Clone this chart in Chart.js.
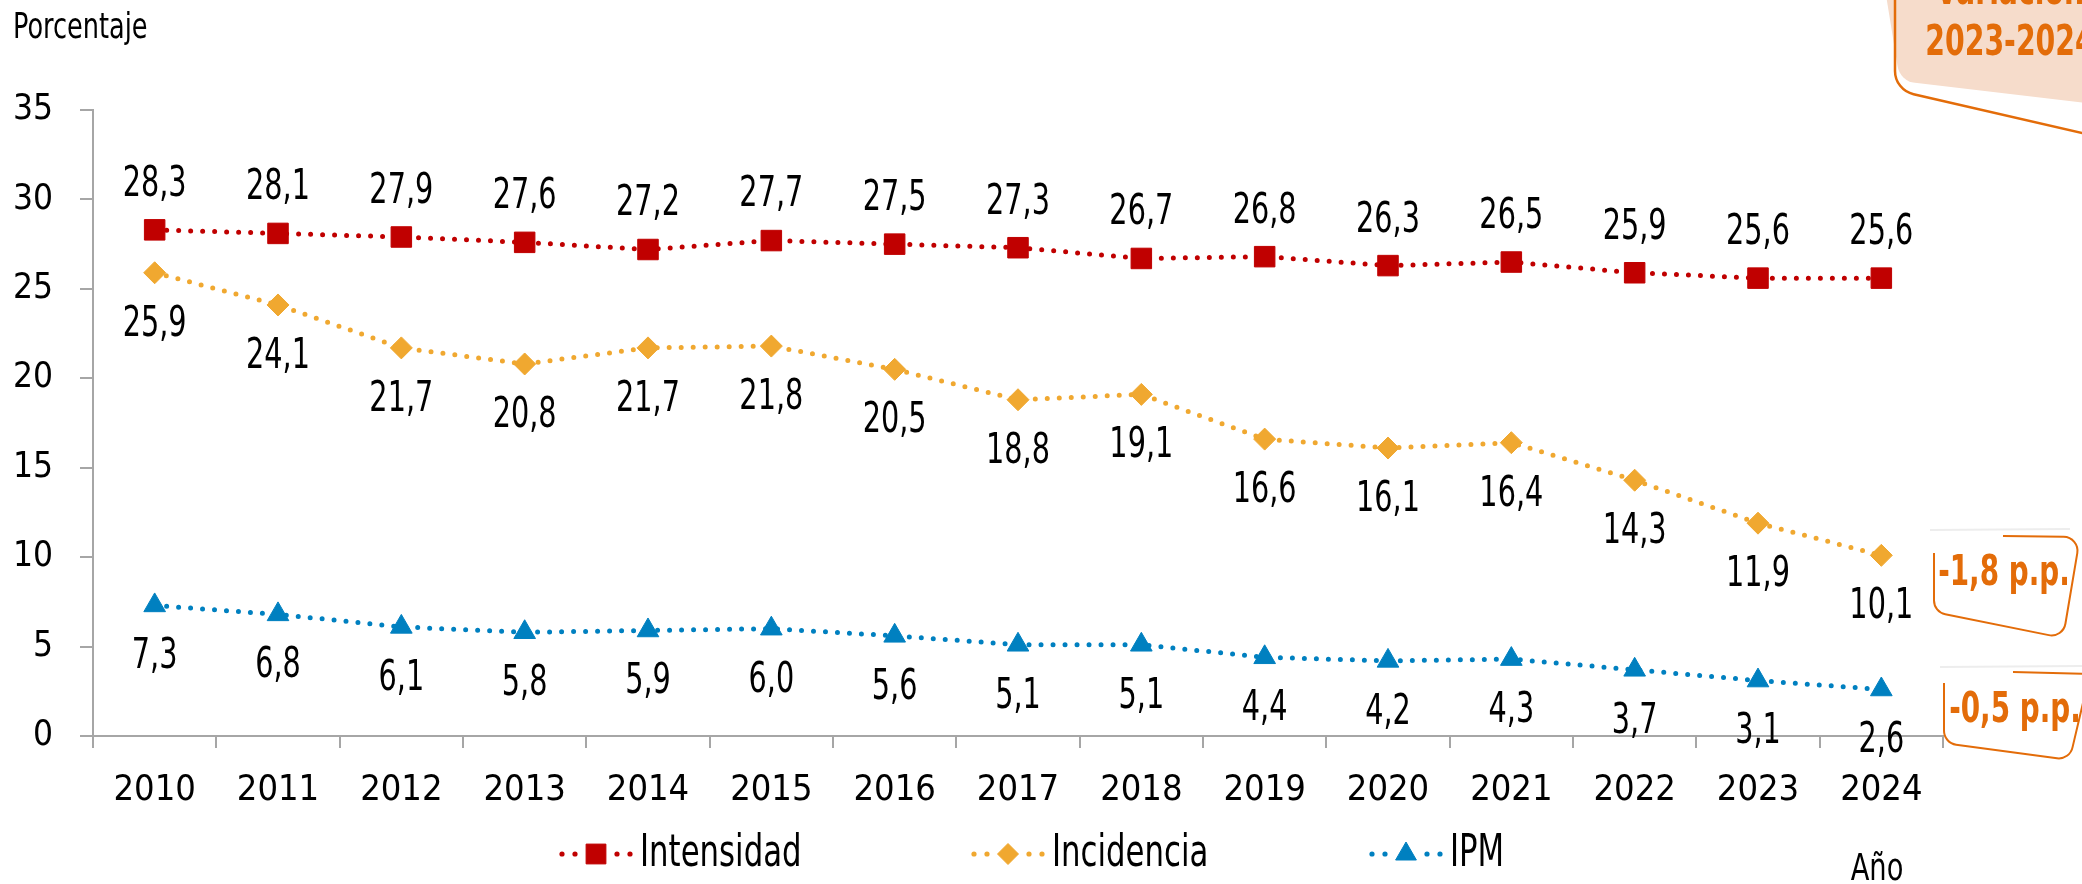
<!DOCTYPE html>
<html><head><meta charset="utf-8">
<script src="https://cdn.jsdelivr.net/npm/chart.js@4.4.0/dist/chart.umd.min.js"></script>
<style>html,body{margin:0;padding:0;background:#fff;overflow:hidden}#wrap{position:relative;width:2082px;height:884px}</style>
</head><body><div id="wrap"><canvas id="c"></canvas></div>
<script>
// ---- data ----
const years = ['2010','2011','2012','2013','2014','2015','2016','2017','2018','2019','2020','2021','2022','2023','2024'];
const intensidad = [28.3,28.1,27.9,27.6,27.2,27.7,27.5,27.3,26.7,26.8,26.3,26.5,25.9,25.6,25.6];
const incidencia = [25.9,24.1,21.7,20.8,21.7,21.8,20.5,18.8,19.1,16.6,16.1,16.4,14.3,11.9,10.1];
const ipm = [7.3,6.8,6.1,5.8,5.9,6.0,5.6,5.1,5.1,4.4,4.2,4.3,3.7,3.1,2.6];
const yTicks = [0,5,10,15,20,25,30,35];
const seriesNames = ['Intensidad','Incidencia','IPM'];
const yTitle = 'Porcentaje';
const xTitle = 'Año';
const boxTitle = ['Variación','2023-2024'];

// ---- styles ----
const FONT = "'Liberation Sans Narrow','DejaVu Sans Condensed','Roboto Condensed',sans-serif";
const RED = '#C00000', ORANGE = '#F0A830', BLUE = '#0080C0', ACCENT = '#E36C09', AXIS = '#A6A6A6';
const fmt = v => v.toFixed(1).replace('.', ',');

Chart.defaults.font.family = FONT;
Chart.defaults.color = '#000';

function ds(label, data, color, style, radius, labelOffset) {
  return {
    label, data, borderColor: color, backgroundColor: color,
    pointBackgroundColor: color, pointBorderColor: color, pointBorderWidth: 1,
    pointStyle: style, pointRadius: radius, pointHoverRadius: radius,
    borderWidth: 5, borderDash: [0, 12], borderCapStyle: 'round', tension: 0,
    fill: false, clip: false, labelOffset
  };
}

const datasets = [
  ds(seriesNames[0], intensidad, RED, 'rect', 14.5, -45),
  ds(seriesNames[1], incidencia, ORANGE, 'rectRot', 11, 52),
  ds(seriesNames[2], ipm, BLUE, 'triangle', 12.5, 52)
];

const legendX = [596, 1008, 1406];

function txt(ctx, s, x, y, font, align, baseline, sx, color) {
  ctx.save();
  ctx.font = font;
  ctx.fillStyle = color;
  ctx.textAlign = align;
  ctx.textBaseline = baseline;
  ctx.translate(x, y);
  ctx.scale(sx, 1);
  ctx.fillText(s, 0, 0);
  ctx.restore();
}

const decorPlugin = {
  id: 'decor',
  afterDatasetsDraw(chart) {
    const ctx = chart.ctx;
    chart.data.datasets.forEach((d, i) => {
      const meta = chart.getDatasetMeta(i);
      meta.data.forEach((el, j) => {
        txt(ctx, fmt(d.data[j]), el.x, el.y + d.labelOffset, `42px ${FONT}`, 'center', 'middle', 0.76, '#000');
      });
    });
  },
  afterDraw(chart) {
    const ctx = chart.ctx;
    ctx.save();
    // axis titles
    txt(ctx, yTitle, 13, 38, `36px ${FONT}`, 'left', 'alphabetic', 0.79, '#000');
    txt(ctx, xTitle, 1877, 880, `37px ${FONT}`, 'center', 'alphabetic', 0.82, '#000');

    // legend
    const ly = 854;
    chart.data.datasets.forEach((d, i) => {
      const cx = legendX[i];
      ctx.fillStyle = d.borderColor;
      [-34, -21, 21, 34].forEach(dx => {
        ctx.beginPath(); ctx.arc(cx + dx, ly, 2.6, 0, Math.PI * 2); ctx.fill();
      });
      ctx.strokeStyle = d.borderColor;
      ctx.lineWidth = 1;
      Chart.helpers.drawPoint(ctx, { pointStyle: d.pointStyle, radius: d.pointRadius - 0.5, rotation: 0, borderWidth: 1 }, cx, ly);
      txt(ctx, d.label, cx + 44, ly, `45px ${FONT}`, 'left', 'middle', 0.76, '#000');
    });

    // top-right "Variación" box
    ctx.fillStyle = '#F6DCCB';
    ctx.beginPath();
    ctx.moveTo(1886, -5);
    ctx.arcTo(1900, 81, 2082, 103, 20);
    ctx.lineTo(2095, 104);
    ctx.lineTo(2095, -5);
    ctx.closePath();
    ctx.fill();
    ctx.strokeStyle = ACCENT;
    ctx.lineWidth = 2.5;
    ctx.beginPath();
    ctx.moveTo(1895, -5);
    ctx.arcTo(1895, 90, 2082, 133, 24);
    ctx.lineTo(2095, 136);
    ctx.stroke();
    txt(ctx, boxTitle[0], 2010, 4, `bold 42px ${FONT}`, 'center', 'alphabetic', 0.75, ACCENT);
    txt(ctx, boxTitle[1], 2010, 55, `bold 42px ${FONT}`, 'center', 'alphabetic', 0.75, ACCENT);

    // variation boxes
    const n = years.length;
    const dInc = fmt(incidencia[n - 1] - incidencia[n - 2]) + ' p.p.';
    const dIpm = fmt(ipm[n - 1] - ipm[n - 2]) + ' p.p.';
    ctx.strokeStyle = '#EDEDED';
    ctx.lineWidth = 2;
    ctx.beginPath(); ctx.moveTo(1930, 530); ctx.lineTo(2070, 529); ctx.stroke();
    ctx.beginPath(); ctx.moveTo(1940, 667); ctx.lineTo(2082, 666); ctx.stroke();

    ctx.strokeStyle = ACCENT;
    ctx.lineWidth = 2;
    ctx.beginPath();
    ctx.moveTo(2003, 536);
    ctx.arcTo(2080, 537, 2063, 638, 14);
    ctx.arcTo(2063, 638, 1934, 612, 14);
    ctx.arcTo(1934, 612, 1934, 553, 14);
    ctx.lineTo(1934, 553);
    ctx.stroke();

    ctx.beginPath();
    ctx.moveTo(2013, 672);
    ctx.lineTo(2095, 674);
    ctx.stroke();
    ctx.beginPath();
    ctx.moveTo(1944, 683);
    ctx.arcTo(1944, 743, 2070, 760, 14);
    ctx.arcTo(2070, 760, 2086, 680, 14);
    ctx.lineTo(2086, 690);
    ctx.stroke();

    txt(ctx, dInc, 2004, 574, `bold 43px ${FONT}`, 'center', 'middle', 0.72, ACCENT);
    txt(ctx, dIpm, 2015, 711, `bold 43px ${FONT}`, 'center', 'middle', 0.72, ACCENT);
    ctx.restore();
  }
};

new Chart(document.getElementById('c'), {
  type: 'line',
  data: { labels: years, datasets },
  options: {
    responsive: true,
    maintainAspectRatio: false,
    devicePixelRatio: 1,
    animation: false,
    events: [],
    layout: { padding: { top: 110, right: 139, left: 0, bottom: 0 } },
    plugins: { legend: { display: false }, tooltip: { enabled: false } },
    scales: {
      x: {
        type: 'category',
        offset: true,
        grid: { offset: true, drawOnChartArea: false, drawTicks: true, tickLength: 12, color: AXIS, lineWidth: 2 },
        border: { color: AXIS, width: 2 },
        ticks: { padding: 21, font: { size: 36 }, color: '#000', autoSkip: false, maxRotation: 0 },
        afterFit: s => { s.height = 148; }
      },
      y: {
        min: 0, max: 35,
        afterBuildTicks: s => { s.ticks = yTicks.map(v => ({ value: v })); },
        grid: { drawOnChartArea: false, drawTicks: true, tickLength: 13, color: AXIS, lineWidth: 2 },
        border: { color: AXIS, width: 2 },
        ticks: { padding: 27, font: { size: 35 }, color: '#000' },
        afterFit: s => { s.width = 93; }
      }
    }
  },
  plugins: [decorPlugin]
});
</script>
</body></html>
